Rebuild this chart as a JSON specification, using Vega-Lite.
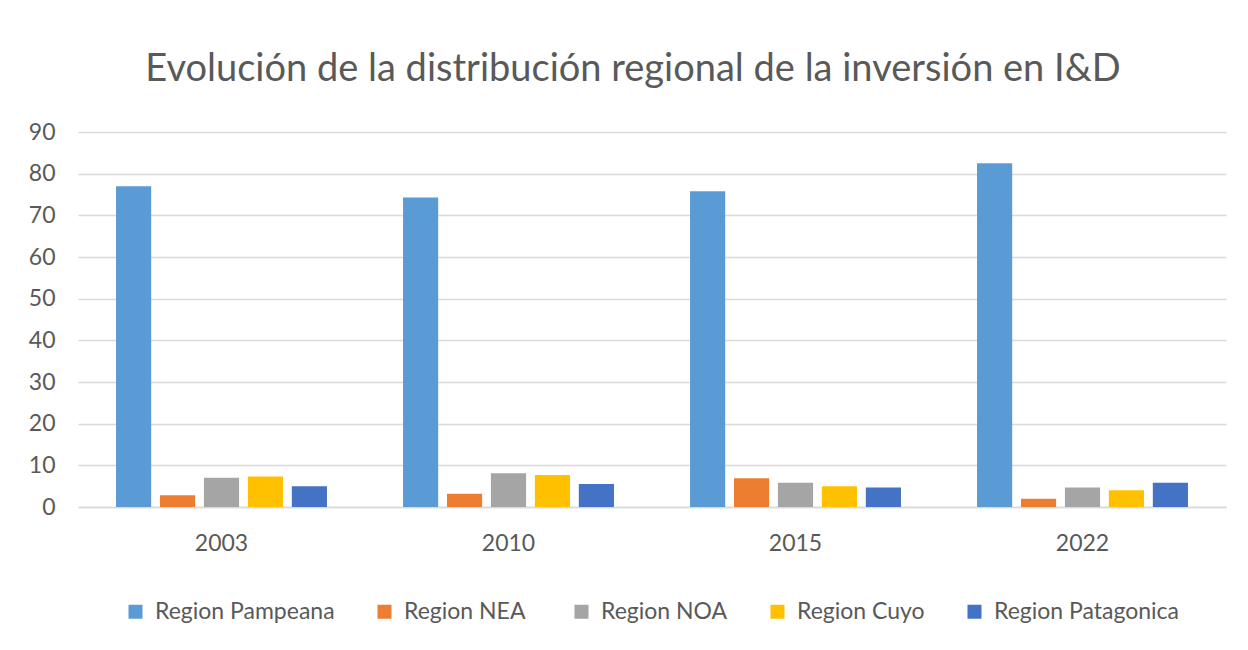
{
  "$schema": "https://vega.github.io/schema/vega-lite/v6.json",
  "autosize": {"type": "none"},
  "padding": {"left": 78, "top": 132, "right": 22, "bottom": 143},
  "width": 1148,
  "height": 375,
  "background": "white",
  "title": {
    "text": "Evolución de la distribución regional de la inversión en I&D",
    "font": "Lato",
    "fontSize": 38,
    "fontWeight": "normal",
    "color": "#595959",
    "anchor": "middle",
    "baseline": "alphabetic",
    "offset": 2,
    "dx": -19
  },
  "data": {
    "values": [
      {"year": "2003", "region": "Region Pampeana", "value": 77.0},
      {"year": "2003", "region": "Region  NEA", "value": 2.8},
      {"year": "2003", "region": "Region NOA", "value": 7.0},
      {"year": "2003", "region": "Region Cuyo", "value": 7.3},
      {"year": "2003", "region": "Region Patagonica", "value": 5.0},
      {"year": "2010", "region": "Region Pampeana", "value": 74.3},
      {"year": "2010", "region": "Region  NEA", "value": 3.2},
      {"year": "2010", "region": "Region NOA", "value": 8.1},
      {"year": "2010", "region": "Region Cuyo", "value": 7.7},
      {"year": "2010", "region": "Region Patagonica", "value": 5.5},
      {"year": "2015", "region": "Region Pampeana", "value": 75.8},
      {"year": "2015", "region": "Region  NEA", "value": 6.9},
      {"year": "2015", "region": "Region NOA", "value": 5.8},
      {"year": "2015", "region": "Region Cuyo", "value": 5.0},
      {"year": "2015", "region": "Region Patagonica", "value": 4.7},
      {"year": "2022", "region": "Region Pampeana", "value": 82.5},
      {"year": "2022", "region": "Region  NEA", "value": 2.0},
      {"year": "2022", "region": "Region NOA", "value": 4.7},
      {"year": "2022", "region": "Region Cuyo", "value": 4.0},
      {"year": "2022", "region": "Region Patagonica", "value": 5.8}
    ]
  },
  "mark": {"type": "bar"},
  "encoding": {
    "x": {
      "field": "year",
      "type": "nominal",
      "scale": {"paddingInner": 0.265, "paddingOuter": 0.1325},
      "axis": {
        "title": null,
        "labelAngle": 0,
        "labelFont": "Lato",
        "labelFontSize": 23,
        "labelColor": "#595959",
        "labelPadding": 25,
        "ticks": false,
        "domainColor": "#d9d9d9",
        "domainWidth": 1.5
      }
    },
    "xOffset": {
      "field": "region",
      "type": "nominal",
      "sort": ["Region Pampeana", "Region  NEA", "Region NOA", "Region Cuyo", "Region Patagonica"],
      "scale": {"paddingInner": 0.2, "paddingOuter": 0}
    },
    "y": {
      "field": "value",
      "type": "quantitative",
      "scale": {"domain": [0, 90]},
      "axis": {
        "title": null,
        "values": [0, 10, 20, 30, 40, 50, 60, 70, 80, 90],
        "labelFont": "Lato",
        "labelFontSize": 23,
        "labelColor": "#595959",
        "labelPadding": 23,
        "ticks": false,
        "domain": false,
        "gridColor": "#d9d9d9",
        "gridWidth": 1.5
      }
    },
    "color": {
      "field": "region",
      "type": "nominal",
      "sort": ["Region Pampeana", "Region  NEA", "Region NOA", "Region Cuyo", "Region Patagonica"],
      "scale": {
        "domain": ["Region Pampeana", "Region  NEA", "Region NOA", "Region Cuyo", "Region Patagonica"],
        "range": ["#5B9BD5", "#ED7D31", "#A5A5A5", "#FFC000", "#4472C4"]
      },
      "legend": {
        "title": null,
        "orient": "bottom",
        "direction": "horizontal",
        "offset": 45,
        "symbolType": "square",
        "symbolSize": 196,
        "symbolStrokeWidth": 0,
        "labelFont": "Lato",
        "labelFontSize": 23,
        "labelColor": "#595959",
        "labelOffset": 8,
        "labelLimit": 400,
        "columnPadding": 38
      }
    }
  },
  "config": {
    "view": {"stroke": null},
    "legend": {"layout": {"bottom": {"anchor": "middle"}}}
  }
}
